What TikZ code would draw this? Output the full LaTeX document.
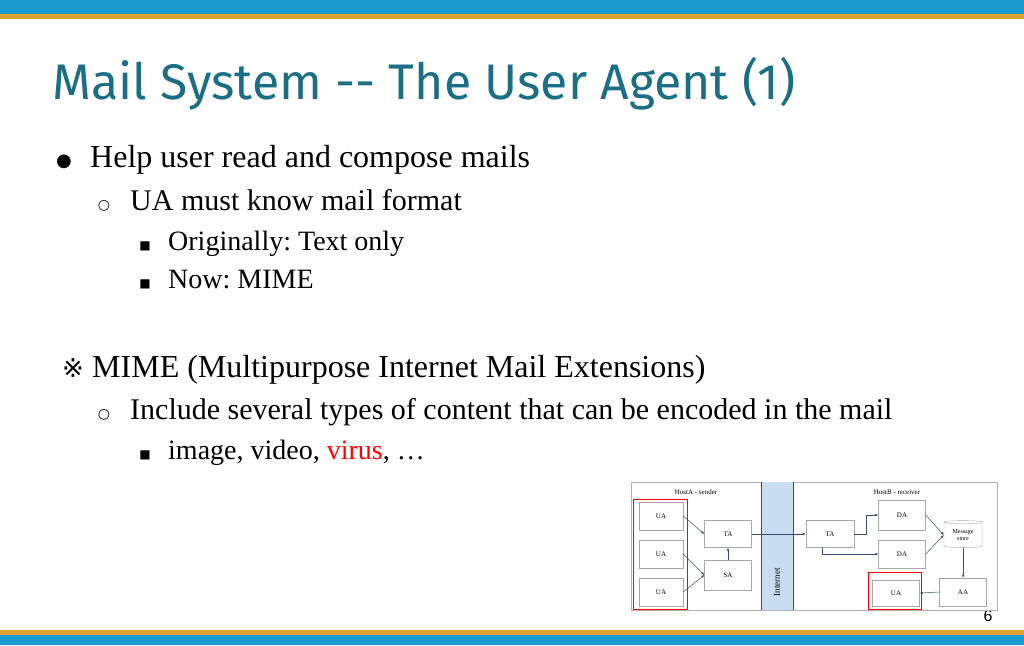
\documentclass[tikz,border=0pt]{standalone}
\usepackage{fontspec}
\setmainfont{Liberation Serif}
\newfontfamily\titlefont{Fira Sans}
\newfontfamily\pagefont{Liberation Sans}
\newfontfamily\symfont{DejaVu Sans}
\usetikzlibrary{shapes.geometric,arrows.meta,positioning}
\definecolor{barblue}{HTML}{1A9BD0}
\definecolor{barorange}{HTML}{E0A030}
\definecolor{titleteal}{HTML}{1B6E84}
\definecolor{netblue}{HTML}{C8DDF0}
\definecolor{arrowblue}{HTML}{3A4A70}
\frenchspacing
\tikzset{box/.style={rectangle,draw=gray!70,fill=white,inner sep=0pt,font=\fontsize{7}{8}\selectfont},
         hl/.style={draw=red,line width=0.8pt},
         flow/.style={draw=arrowblue,line width=0.5pt,-{Latex[length=3pt,width=2.5pt]}},
         item/.style={anchor=base west,inner sep=0pt}
}
\begin{document}
\begin{tikzpicture}[x=1pt,y=-1pt]
\useasboundingbox (0,0) rectangle (1024,645);
% bars
\fill[barblue] (0,0) rectangle (1024,14);
\fill[barorange] (0,14) rectangle (1024,19);
\fill[barorange] (0,630) rectangle (1024,635);
\fill[barblue] (0,635) rectangle (1024,645);
% title and text
\node[item,text=titleteal,font=\titlefont\fontsize{50}{56}\selectfont] (title) at (52,99) {Mail System -- The User Agent (1)};
\node[item,font=\fontsize{32}{36}\selectfont] (l1) at (90,167) {Help user read and compose mails};
\node[anchor=base,inner sep=0pt,font=\symfont\fontsize{18}{22}\selectfont] at (64,166) {●};
\node[item,font=\fontsize{30}{34}\selectfont] (l2) at (130,210) {UA must know mail format};
\node[anchor=base,inner sep=0pt,font=\symfont\fontsize{14}{18}\selectfont] at (104,209) {○};
\node[item,font=\fontsize{28}{32}\selectfont] (l3) at (168,250) {Originally: Text only};
\node[anchor=base,inner sep=0pt,font=\symfont\fontsize{12}{16}\selectfont] at (145,249) {■};
\node[item,font=\fontsize{28}{32}\selectfont] (l4) at (168,288) {Now: MIME};
\node[anchor=base,inner sep=0pt,font=\symfont\fontsize{12}{16}\selectfont] at (145,287) {■};
\node[anchor=base,inner sep=0pt,font=\symfont\fontsize{26}{30}\selectfont] at (73,377) {※};
\node[item,font=\fontsize{32}{36}\selectfont] (m1) at (92,377) {MIME (Multipurpose Internet Mail Extensions)};
\node[item,font=\fontsize{30}{34}\selectfont] (m2) at (130,419) {Include several types of content that can be encoded in the mail};
\node[anchor=base,inner sep=0pt,font=\symfont\fontsize{14}{18}\selectfont] at (104,418) {○};
\node[item,font=\fontsize{28}{32}\selectfont] (m3) at (168,459) {image, video, \textcolor{red}{virus}, \dots};
\node[anchor=base,inner sep=0pt,font=\symfont\fontsize{12}{16}\selectfont] at (145,458) {■};
\node[anchor=base,inner sep=0pt,font=\pagefont\fontsize{16}{18}\selectfont] (pg) at (988,621) {6};
% diagram
\draw[gray!60,fill=white] (631,482) rectangle (997,610);
\fill[netblue] (761,482) rectangle (793,610);
\draw[arrowblue] (761,482) -- (761,610) (793,482) -- (793,610);
\node[rotate=90,font=\fontsize{9}{10}\selectfont] (net) at (777,582) {Internet};
\node[font=\fontsize{7}{8}\selectfont] (hosta) at (696,492) {HostA - sender};
\node[font=\fontsize{7}{8}\selectfont] (hostb) at (897,492) {HostB - receiver};
\node[box,minimum width=44pt,minimum height=28pt] (ua1) at (661,516) {UA};
\node[box,minimum width=44pt,minimum height=28pt] (ua2) at (661,554) {UA};
\node[box,minimum width=44pt,minimum height=28pt] (ua3) at (661,592) {UA};
\node[box,minimum width=47pt,minimum height=27pt] (taa) at (728,534) {TA};
\node[box,minimum width=47pt,minimum height=30pt] (sa) at (728,575) {SA};
\node[box,minimum width=48pt,minimum height=27pt] (tab) at (830,534) {TA};
\node[box,minimum width=47pt,minimum height=30pt] (da1) at (902,515) {DA};
\node[box,minimum width=47pt,minimum height=28pt] (da2) at (902,554) {DA};
\node[box,cylinder,shape border rotate=90,aspect=0.15,minimum width=38pt,minimum height=27pt,align=center,font=\fontsize{6}{7}\selectfont] (ms) at (963,535) {Message\\store};
\node[box,minimum width=47pt,minimum height=28pt] (aa) at (963,592) {AA};
\node[box,minimum width=47pt,minimum height=26pt] (uab) at (896,593) {UA};
\draw[hl] (633,499) rectangle (687,609);
\draw[hl] (868,572) rectangle (921,609);
\draw[flow] (ua1.east) -- (taa.west);
\draw[flow] (ua2.east) -- (sa.west);
\draw[flow] (ua3.east) -- (sa.west);
\draw[flow] (sa.north) -- (taa.south);
\draw[flow] (taa.east) -- (tab.west);
\draw[flow] (tab.east) -- ++(12,0) |- (da1.west);
\draw[flow] (tab.south) ++(-8,0) |- (da2.west);
\draw[flow] (da1.east) -- (ms.west);
\draw[flow] (da2.east) -- (ms.west);
\draw[flow] (ms.south) -- (aa.north);
\draw[flow] (aa.west) -- (uab.east);
\end{tikzpicture}
\end{document}
